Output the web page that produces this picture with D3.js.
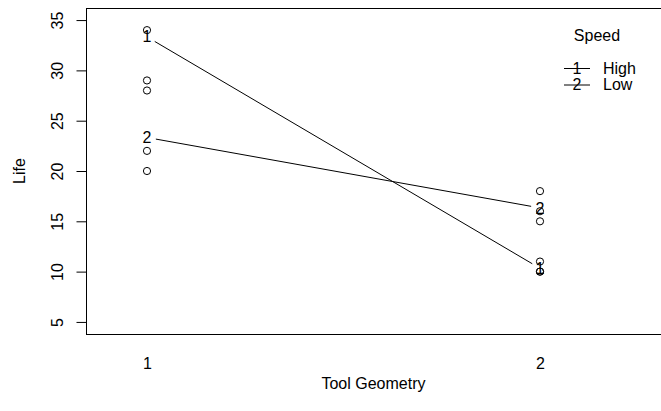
<!DOCTYPE html>
<html>
<head>
<meta charset="utf-8">
<script src="https://cdn.jsdelivr.net/npm/d3@7"></script>
<style>
  html, body { margin: 0; padding: 0; background: #fff; }
  svg { display: block; }
  text { font-family: "Liberation Sans", Arial, sans-serif; font-size: 16px; fill: #000; }
</style>
</head>
<body>
<svg id="chart" width="661" height="411"></svg>
<script>
// ---- data ----
const geometryLevels = ["1", "2"];              // x categories (Tool Geometry)
const speedLevels = ["High", "Low"];            // trace factor (Speed)
const traceLabels = ["1", "2"];                 // plotting characters for the traces
const highMeans = [33.33, 10.33];               // mean Life, Speed = High
const lowMeans = [23.33, 16.33];                // mean Life, Speed = Low
const obsGeometry = [1, 1, 1, 1, 1, 2, 2, 2, 2, 2, 2];
const obsLife =     [34, 29, 28, 22, 20, 18, 16, 15, 11, 10, 10];
const yTicks = [5, 10, 15, 20, 25, 30, 35];
const xLabel = "Tool Geometry";
const yLabel = "Life";
const legendTitle = "Speed";

// ---- layout ----
const svg = d3.select("#chart");
const plot = { left: 86, right: 661, top: 8, bottom: 334 };

const x = d3.scaleLinear().domain([0.8448, 2.3079]).range([plot.left, plot.right]);
const y = d3.scaleLinear().domain([3.8, 36.2]).range([plot.bottom, plot.top]);

// box
svg.append("rect")
  .attr("x", plot.left + 0.5).attr("y", plot.top + 0.5)
  .attr("width", plot.right - plot.left).attr("height", plot.bottom - plot.top)
  .attr("fill", "none").attr("stroke", "#000").attr("stroke-width", 1);

// y axis
const yAxis = d3.axisLeft(y).tickValues(yTicks).tickSize(10).tickFormat(d3.format("d"));
const gy = svg.append("g").attr("transform", `translate(${plot.left + 0.5},0)`).call(yAxis);
gy.select(".domain").remove();
gy.selectAll("line").attr("stroke", "#000");
gy.selectAll("text")
  .attr("x", 0).attr("y", 0).attr("dy", "0.35em")
  .attr("text-anchor", "middle")
  .attr("transform", `translate(${57 - plot.left - 0.5},0) rotate(-90)`);

// x axis (labels only, no ticks)
const xAxis = d3.axisBottom(x).tickValues([1, 2]).tickSize(0)
  .tickFormat((d, i) => geometryLevels[i]);
const gx = svg.append("g").attr("transform", `translate(0,${plot.bottom})`).call(xAxis);
gx.select(".domain").remove();
gx.selectAll("text").attr("y", 29).attr("dy", "0.35em");

// axis titles
svg.append("text").attr("x", (plot.left + plot.right) / 2).attr("y", 383)
  .attr("dy", "0.35em").attr("text-anchor", "middle").text(xLabel);
svg.append("text")
  .attr("transform", `translate(19,${(plot.top + plot.bottom) / 2}) rotate(-90)`)
  .attr("dy", "0.35em").attr("text-anchor", "middle").text(yLabel);

// observations
svg.append("g").selectAll("circle")
  .data(obsLife.map((v, i) => ({ g: obsGeometry[i], v })))
  .join("circle")
  .attr("cx", d => x(d.g)).attr("cy", d => y(d.v)).attr("r", 3.6)
  .attr("fill", "none").attr("stroke", "#000").attr("stroke-width", 1);

// traces (type = "b": labels with gapped segments)
const traces = [highMeans, lowMeans];
const gap = 9;
traces.forEach((means, ti) => {
  const pts = means.map((m, i) => [x(i + 1), y(m)]);
  for (let i = 0; i < pts.length - 1; i++) {
    const [x0, y0] = pts[i], [x1, y1] = pts[i + 1];
    const L = Math.hypot(x1 - x0, y1 - y0);
    const ux = (x1 - x0) / L, uy = (y1 - y0) / L;
    svg.append("line")
      .attr("x1", x0 + ux * gap).attr("y1", y0 + uy * gap)
      .attr("x2", x1 - ux * gap).attr("y2", y1 - uy * gap)
      .attr("stroke", "#000").attr("stroke-width", 1);
  }
  pts.forEach(p => {
    svg.append("text").attr("x", p[0]).attr("y", p[1])
      .attr("dy", "0.35em").attr("text-anchor", "middle").text(traceLabels[ti]);
  });
});

// legend
svg.append("text").attr("x", 597).attr("y", 35).attr("dy", "0.35em")
  .attr("text-anchor", "middle").text(legendTitle);
speedLevels.forEach((lvl, i) => {
  const ly = 68 + i * 16.5;
  svg.append("line").attr("x1", 564).attr("x2", 590).attr("y1", ly + 0.5).attr("y2", ly + 0.5)
    .attr("stroke", "#000").attr("stroke-width", 1);
  svg.append("text").attr("x", 577).attr("y", ly).attr("dy", "0.35em")
    .attr("text-anchor", "middle").text(traceLabels[i]);
  svg.append("text").attr("x", 603).attr("y", ly).attr("dy", "0.35em").text(lvl);
});
</script>
</body>
</html>
